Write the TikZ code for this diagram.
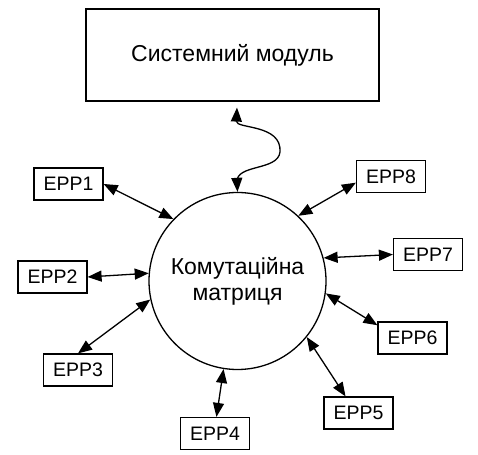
\documentclass[tikz,border=0pt]{standalone}
\usepackage{fontspec}
\setmainfont{Liberation Sans}
\usetikzlibrary{arrows.meta, positioning, calc}
\tikzset{
  sysbox/.style={rectangle, draw=black, fill=white, minimum width=293pt,
    minimum height=92pt, font=\fontsize{23}{27}\selectfont, line width=1.2pt},
  hubcirc/.style={circle, draw=black, fill=white, minimum size=177pt,
    align=center, font=\fontsize{23}{26}\selectfont, line width=1.3pt, inner sep=0pt},
  eppbox/.style={rectangle, draw=black, fill=white, minimum width=69pt,
    minimum height=32pt, font=\fontsize{19.5}{22}\selectfont, line width=1.2pt, inner sep=0pt},
  biarrow/.style={{Triangle[length=14pt,width=11pt]}-{Triangle[length=14pt,width=11pt]},
    line width=1.3pt, color=black}
}
\begin{document}
\begin{tikzpicture}[x=1pt, y=1pt]
  \useasboundingbox (0,0) rectangle (478,454);
  % main blocks
  \node[sysbox] (sys) at (232.5,399) {Системний модуль};
  \node[hubcirc] (hub) at (237.5,173) {Комутаційна\\матриця};
  % peripheral units
  \node[eppbox] (epp1) at (68.5,270) {ЕРР1};
  \node[eppbox] (epp2) at (52.5,177) {ЕРР2};
  \node[eppbox] (epp3) at (78,84) {ЕРР3};
  \node[eppbox] (epp4) at (215,20.5) {ЕРР4};
  \node[eppbox] (epp5) at (358.5,41) {ЕРР5};
  \node[eppbox] (epp6) at (412.5,116) {ЕРР6};
  \node[eppbox] (epp7) at (428,199.5) {ЕРР7};
  \node[eppbox] (epp8) at (391,277.5) {ЕРР8};
  % links
  \draw[biarrow] (epp1.east) -- (hub.136);
  \draw[biarrow] (epp2.east) -- (hub.175);
  \draw[biarrow] (epp3.north) -- (hub.192);
  \draw[biarrow] (epp4.85) -- (hub.261);
  \draw[biarrow] (epp5.128) -- (hub.321);
  \draw[biarrow] (epp6.160) -- (hub.352);
  \draw[biarrow] (epp7.west) -- (hub.15);
  \draw[biarrow] (epp8.190) -- (hub.47);
  % wavy bus
  \coordinate (wtop) at ($(sys.south)+(4.5,-6)$);
  \draw[biarrow] (wtop) .. controls (236,325) and (282,330) .. (280,302)
    .. controls (278,283) and (236,290) .. (237,272) -- (hub.north);
\end{tikzpicture}
\end{document}
